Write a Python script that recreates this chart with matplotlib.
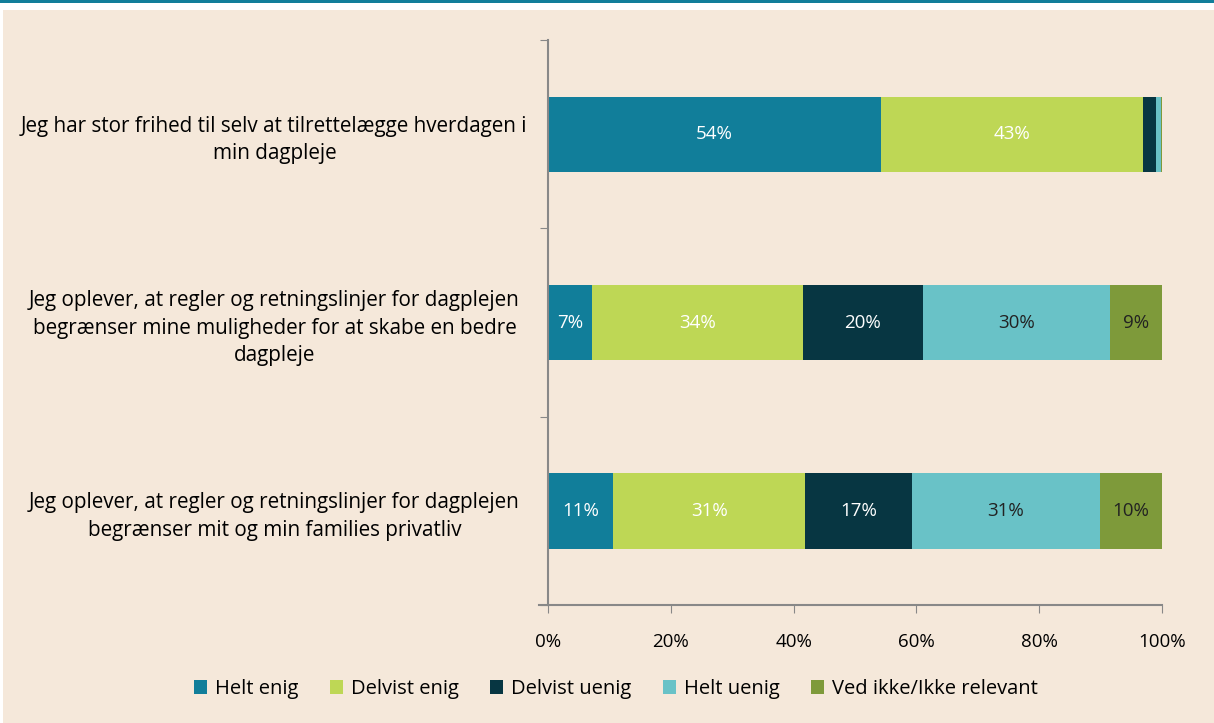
import matplotlib
matplotlib.use('Agg')

import matplotlib.pyplot as plt
from matplotlib.patches import Rectangle

plt.rcParams['font.family'] = ['Open Sans', 'DejaVu Sans']

statements = [
    "Jeg har stor frihed til selv at tilrettelægge hverdagen i\nmin dagpleje",
    "Jeg oplever, at regler og retningslinjer for dagplejen\nbegrænser mine muligheder for at skabe en bedre\ndagpleje",
    "Jeg oplever, at regler og retningslinjer for dagplejen\nbegrænser mit og min families privatliv",
]
answers = ["Helt enig", "Delvist enig", "Delvist uenig", "Helt uenig", "Ved ikke/Ikke relevant"]

helt_enig = [54.2, 7.2, 10.6]
delvist_enig = [42.7, 34.3, 31.3]
delvist_uenig = [2.1, 19.6, 17.4]
helt_uenig = [0.8, 30.4, 30.6]
ved_ikke = [0.2, 8.6, 10.1]

series = [helt_enig, delvist_enig, delvist_uenig, helt_uenig, ved_ikke]
colors = ["#117E9A", "#BED755", "#073642", "#69C2C7", "#7E9A3A"]
text_colors = ["white", "white", "white", "#222222", "#222222"]

bg = "#F5E8DA"
fig = plt.figure(figsize=(12.14, 7.23), dpi=100)
fig.patch.set_facecolor("white")
# beige panel and teal top line
fig.patches.append(Rectangle((3 / 1214, 0), 1 - 3 / 1214, 1 - 10 / 723,
                             transform=fig.transFigure, facecolor=bg, edgecolor="none", zorder=-10))
fig.patches.append(Rectangle((0, 1 - 2.5 / 723), 1, 2.5 / 723,
                             transform=fig.transFigure, facecolor="#117E9A", edgecolor="none", zorder=-10))

ax = fig.add_axes([548 / 1214, 1 - 605 / 723, (1162 - 548) / 1214, (605 - 40) / 723])
ax.patch.set_alpha(0)

fs = 13.5
y = list(range(len(statements)))
left = [0.0] * len(statements)
for vals, col, tcol, name in zip(series, colors, text_colors, answers):
    ax.barh(y, vals, left=left, height=0.4, color=col, label=name, zorder=2)
    for i, v in enumerate(vals):
        if v >= 5:
            ax.text(left[i] + v / 2, y[i], f"{round(v)}%", ha="center", va="center",
                    color=tcol, fontsize=fs, zorder=3)
    left = [l + v for l, v in zip(left, vals)]

ax.set_xlim(0, 100)
ax.set_ylim(2.5, -0.5)
ax.set_xticks(range(0, 101, 20))
ax.set_xticklabels([f"{t}%" for t in range(0, 101, 20)], fontsize=fs)
ax.set_yticks([-0.5, 0.5, 1.5, 2.5])
ax.set_yticklabels([])
ax.set_yticks(y, minor=True)
ax.set_yticklabels(statements, minor=True, fontsize=14.9, ha="center", linespacing=1.4)
# label centre at about x = 274 px
ax.tick_params(axis="y", which="minor", length=0, pad=197)
ax.tick_params(axis="y", which="major", length=6, color="#888888", direction="out")
ax.tick_params(axis="x", length=6, color="#888888", pad=14)

for s in ["top", "right"]:
    ax.spines[s].set_visible(False)
for s in ["left", "bottom"]:
    ax.spines[s].set_color("#888888")
    ax.spines[s].set_linewidth(1.5)
ax.spines["bottom"].set_bounds(-1.5, 100)
ax.spines["bottom"].set_clip_on(False)

leg = fig.legend(loc="center", bbox_to_anchor=(0.5 + 9 / 1214, 1 - 689 / 723), ncol=5, frameon=False,
                 fontsize=14.5, handlelength=0.65, handleheight=0.65, handletextpad=0.4,
                 columnspacing=1.55)

fig.savefig("out.png", dpi=100, facecolor=fig.get_facecolor())
